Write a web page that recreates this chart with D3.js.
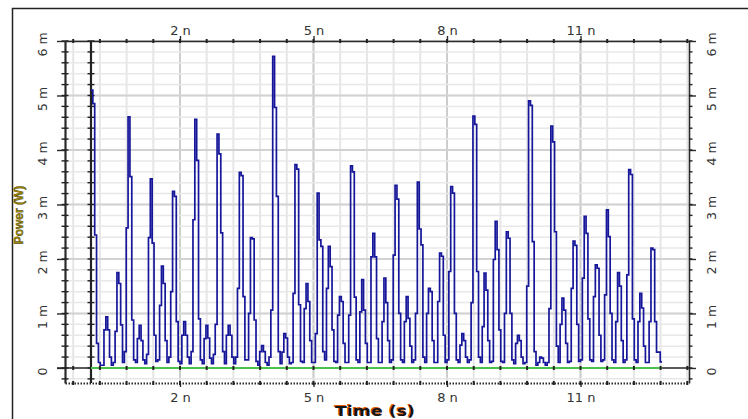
<!DOCTYPE html>
<html>
<head>
<meta charset="utf-8">
<script src="https://d3js.org/d3.v7.min.js"></script>
<style>
  body { margin: 0; background: #fff; }
  svg { display: block; }
</style>
</head>
<body>
<div id="chart"></div>
<script>
// time between two samples (ns) : 6 samples per 0.25 ns slot
const sampleStep = 0.25 / 6;

// power samples, in mW (one line per slot)
const power = [
  5.1, 4.85, 2.44, 0.45, 0.1, 0.05,
  0.05, 0.7, 0.94, 0.7, 0.2, 0.05,
  0.1, 0.67, 1.75, 1.55, 0.79, 0.1,
  0.3, 2.57, 4.61, 3.51, 0.88, 0.15,
  0.1, 0.54, 0.78, 0.5, 0.15, 0.08,
  0.25, 2.39, 3.47, 2.29, 0.6, 0.12,
  0.15, 1.15, 1.87, 1.55, 0.5, 0.1,
  0.2, 1.4, 3.24, 3.15, 0.85, 0.12,
  0.08, 0.6, 0.85, 0.6, 0.2, 0.08,
  0.3, 2.72, 4.56, 3.81, 0.9, 0.15,
  0.08, 0.54, 0.78, 0.55, 0.18, 0.08,
  0.25, 0.8, 4.29, 3.93, 2.48, 0.3,
  0.08, 0.6, 0.78, 0.6, 0.2, 0.08,
  0.2, 1.46, 3.59, 3.53, 1.31, 0.15,
  0.15, 1.0, 2.39, 2.37, 0.88, 0.12,
  0.05, 0.3, 0.41, 0.3, 0.1, 0.05,
  0.2, 1.06, 5.72, 4.78, 3.15, 0.3,
  0.08, 0.29, 0.63, 0.55, 0.2, 0.08,
  0.1, 1.37, 3.73, 3.65, 1.16, 0.12,
  0.1, 1.09, 1.55, 1.22, 0.5, 0.1,
  0.1, 0.63, 3.21, 2.35, 2.23, 0.3,
  0.15, 1.46, 2.23, 1.86, 0.7, 0.12,
  0.1, 0.97, 1.31, 1.22, 0.45, 0.1,
  0.1, 0.97, 3.71, 3.6, 1.3, 0.15,
  0.1, 1.03, 1.62, 1.06, 0.45, 0.1,
  0.1, 2.04, 2.47, 2.04, 0.54, 0.1,
  0.1, 0.85, 1.65, 1.2, 0.5, 0.1,
  0.15, 2.07, 3.35, 3.1, 1.0, 0.15,
  0.1, 0.85, 1.31, 0.91, 0.4, 0.1,
  0.15, 1.0, 3.41, 2.55, 2.26, 0.2,
  0.1, 1.0, 1.46, 1.4, 0.5, 0.1,
  0.1, 1.22, 2.11, 2.05, 0.6, 0.1,
  0.15, 1.77, 3.33, 3.21, 1.0, 0.15,
  0.1, 0.42, 0.63, 0.5, 0.2, 0.1,
  0.15, 1.2, 4.62, 4.47, 1.77, 0.2,
  0.1, 0.76, 1.74, 1.43, 0.5, 0.1,
  0.12, 1.99, 2.69, 2.17, 0.7, 0.12,
  0.1, 1.0, 2.5, 2.38, 1.0, 0.15,
  0.08, 0.45, 0.6, 0.5, 0.2, 0.08,
  0.1, 1.5, 4.9, 4.82, 2.32, 0.3,
  0.05, 0.1, 0.2, 0.18, 0.1, 0.05,
  0.1, 1.09, 4.44, 4.15, 2.5, 0.4,
  0.1, 0.8, 1.28, 1.06, 0.45, 0.1,
  0.12, 1.46, 2.33, 2.25, 0.8, 0.12,
  0.15, 1.65, 2.78, 2.47, 0.9, 0.15,
  0.12, 1.31, 1.89, 1.83, 0.6, 0.12,
  0.15, 1.34, 2.9, 2.41, 1.0, 0.15,
  0.1, 0.85, 1.75, 1.5, 0.5, 0.1,
  0.15, 1.71, 3.64, 3.55, 0.9, 0.15,
  0.1, 0.85, 1.37, 1.1, 0.4, 0.1,
  0.1, 0.85, 2.2, 2.17, 0.85, 0.29,
  0.29, 0.11, 0.11
];

// axis ticks / labels
const xMajorTicks = [2, 5, 8, 11];
const xTickLabels = ["2 n", "5 n", "8 n", "11 n"];
const yMajorTicks = [0, 1, 2, 3, 4, 5, 6];
const yTickLabels = ["0", "1 m", "2 m", "3 m", "4 m", "5 m", "6 m"];

const W = 748, H = 419;
const plot = { left: 65, right: 689, top: 41, bottom: 383 };

const svg = d3.select("#chart").append("svg")
  .attr("width", W).attr("height", H);

// outer panel border
svg.append("rect")
  .attr("x", 12.5).attr("y", 8.5)
  .attr("width", W).attr("height", H)
  .attr("fill", "#fff").attr("stroke", "#222").attr("stroke-width", 1.5);

const x = d3.scaleLinear().domain([-0.584, 13.438]).range([plot.left, plot.right]);
const y = d3.scaleLinear().domain([-0.276, 6]).range([plot.bottom, plot.top]);

const xMinor = d3.range(-0.4, 13.41, 0.6);
const yMinor = d3.range(-0.2, 6.01, 0.2);

// grid
const grid = svg.append("g");
grid.selectAll(".vx").data(xMinor).join("line")
  .attr("x1", d => x(d)).attr("x2", d => x(d))
  .attr("y1", plot.top).attr("y2", plot.bottom)
  .attr("stroke", "#e6e6e6").attr("stroke-width", 2);
grid.selectAll(".vxm").data(xMajorTicks).join("line")
  .attr("x1", d => x(d)).attr("x2", d => x(d))
  .attr("y1", plot.top).attr("y2", plot.bottom)
  .attr("stroke", "#cdcdcd").attr("stroke-width", 2);
grid.selectAll(".hy").data(yMinor).join("line")
  .attr("x1", plot.left).attr("x2", plot.right)
  .attr("y1", d => y(d)).attr("y2", d => y(d))
  .attr("stroke", "#e8e8e8").attr("stroke-width", 1.5);
grid.selectAll(".hym").data(yMajorTicks.slice(1)).join("line")
  .attr("x1", plot.left).attr("x2", plot.right)
  .attr("y1", d => y(d)).attr("y2", d => y(d))
  .attr("stroke", "#d2d2d2").attr("stroke-width", 2);

const labelFont = "'DejaVu Sans', sans-serif";

function styleAxis(g) {
  g.select(".domain").attr("stroke", "#2a2a2a").attr("stroke-width", 1.6);
  g.selectAll(".tick line").attr("stroke", "#2a2a2a").attr("stroke-width", 1.4);
  g.selectAll("text").attr("fill", "#333").attr("font-family", labelFont);
}

// minor tick marks along a horizontal line
function xMinorTicks(yPos) {
  svg.append("g").selectAll("line").data(xMinor).join("line")
    .attr("x1", d => x(d)).attr("x2", d => x(d))
    .attr("y1", yPos - 2).attr("y2", yPos + 2)
    .attr("stroke", "#222").attr("stroke-width", 2);
}
function yMinorTicks(xPos, a, b) {
  svg.append("g").selectAll("line").data(yMinor).join("line")
    .attr("x1", xPos + a).attr("x2", xPos + b)
    .attr("y1", d => y(d)).attr("y2", d => y(d))
    .attr("stroke", "#222").attr("stroke-width", 1.4);
}

// top axis
svg.append("g")
  .attr("transform", `translate(0,${plot.top})`)
  .call(d3.axisTop(x).tickValues(xMajorTicks)
    .tickFormat((d, i) => xTickLabels[i]).tickSize(5).tickPadding(1).tickSizeOuter(0))
  .call(styleAxis)
  .call(g => g.selectAll("text").attr("font-size", 13));
xMinorTicks(plot.top);

// bottom axis (dotted)
svg.append("g")
  .attr("transform", `translate(0,${plot.bottom})`)
  .call(d3.axisBottom(x).tickValues(xMajorTicks)
    .tickFormat((d, i) => xTickLabels[i]).tickSize(4).tickPadding(6).tickSizeOuter(0))
  .call(styleAxis)
  .call(g => g.select(".domain").attr("stroke-dasharray", "1.5,1.5").attr("stroke-width", 2))
  .call(g => g.selectAll("text").attr("font-size", 13));
xMinorTicks(plot.bottom);

// zero line (x axis at 0 W)
svg.append("line")
  .attr("x1", plot.left - 8).attr("x2", plot.right)
  .attr("y1", y(0)).attr("y2", y(0))
  .attr("stroke", "#2a2a2a").attr("stroke-width", 1.5);

// left axis
svg.append("g")
  .attr("transform", `translate(${plot.left},0)`)
  .call(d3.axisLeft(y).tickValues(yMajorTicks)
    .tickFormat((d, i) => yTickLabels[i]).tickSize(8).tickSizeOuter(0))
  .call(styleAxis)
  .call(g => g.select(".domain").attr("stroke-width", 2.2))
  .call(g => g.selectAll("text")
    .attr("font-size", 12.5).attr("text-anchor", "middle").attr("dy", "0.35em")
    .attr("x", 0).attr("transform", "translate(-22,3) rotate(-90)"));
yMinorTicks(plot.left, -3.5, 3.5);

// right axis
svg.append("g")
  .attr("transform", `translate(${plot.right},0)`)
  .call(d3.axisRight(y).tickValues(yMajorTicks)
    .tickFormat((d, i) => yTickLabels[i]).tickSize(7).tickSizeOuter(0))
  .call(styleAxis)
  .call(g => g.selectAll("text")
    .attr("font-size", 12.5).attr("text-anchor", "middle").attr("dy", "0.35em")
    .attr("x", 0).attr("transform", "translate(23,3) rotate(-90)"));
yMinorTicks(plot.right, 0, 3.5);

// y axis at t = 0
svg.append("line")
  .attr("x1", x(0)).attr("x2", x(0))
  .attr("y1", plot.top).attr("y2", plot.bottom)
  .attr("stroke", "#222").attr("stroke-width", 2.2);
yMinorTicks(x(0), -3.5, 3.5);

// signal
const samples = power.map((p, i) => ({ t: i * sampleStep, p: p }));

svg.append("line")
  .attr("x1", x(0)).attr("x2", x(samples[samples.length - 1].t))
  .attr("y1", y(0)).attr("y2", y(0))
  .attr("stroke", "#4cc04c").attr("stroke-width", 2);

xMinorTicks(y(0));

svg.append("path")
  .datum(samples)
  .attr("fill", "none")
  .attr("stroke", "#16169a")
  .attr("stroke-width", 1.7)
  .attr("d", d3.line().curve(d3.curveStepAfter)
    .x(d => x(d.t)).y(d => y(d.p)));

// axis titles
svg.append("text")
  .attr("transform", `translate(23,215) rotate(-90)`)
  .attr("text-anchor", "middle")
  .attr("font-family", "'Liberation Sans', Arial, sans-serif")
  .attr("font-weight", "bold").attr("font-size", 12)
  .attr("fill", "#9a8600").attr("stroke", "#3b3300").attr("stroke-width", 0.35)
  .text("Power (W)");

const tx = 375, ty = 416;
svg.append("text")
  .attr("x", tx - 1).attr("y", ty - 1)
  .attr("text-anchor", "middle")
  .attr("font-family", "'DejaVu Sans', sans-serif")
  .attr("font-weight", "bold").attr("font-size", 14)
  .attr("textLength", 80).attr("lengthAdjust", "spacingAndGlyphs")
  .attr("fill", "#e05a00")
  .text("Time (s)");
svg.append("text")
  .attr("x", tx).attr("y", ty)
  .attr("text-anchor", "middle")
  .attr("font-family", "'DejaVu Sans', sans-serif")
  .attr("font-weight", "bold").attr("font-size", 14)
  .attr("textLength", 80).attr("lengthAdjust", "spacingAndGlyphs")
  .attr("fill", "#151515")
  .text("Time (s)");
</script>
</body>
</html>
